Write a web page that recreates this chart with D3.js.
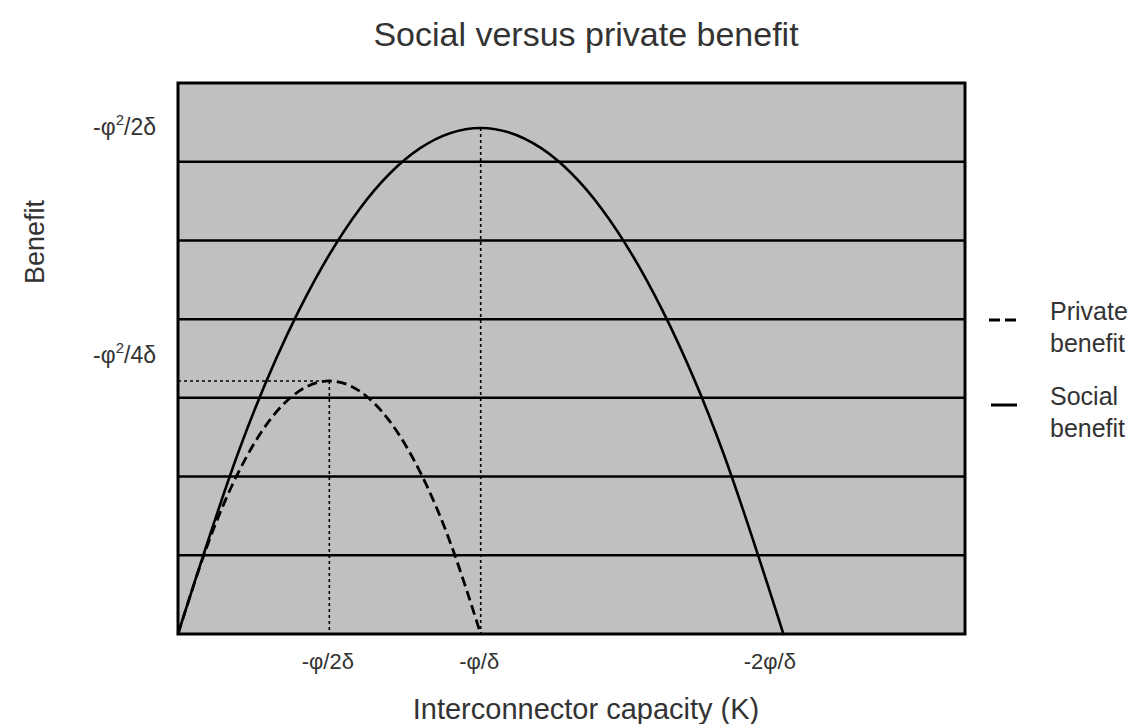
<!DOCTYPE html>
<html>
<head>
<meta charset="utf-8">
<script src="https://cdn.jsdelivr.net/npm/d3@7"></script>
<style>
  html, body { margin: 0; padding: 0; background: #fff; }
  svg { display: block; font-family: "Liberation Sans", Arial, sans-serif; }
</style>
</head>
<body>
<svg id="chart" width="1136" height="724"></svg>
<script>
// ---- Data (K in units of φ/δ, benefit in units of φ²/δ) ----
const socialK       = [0, 0.2, 0.4, 0.6, 0.8, 1.0, 1.2, 1.4, 1.6, 1.8, 2.0];
const socialBenefit = [0, 0.18, 0.32, 0.42, 0.48, 0.50, 0.48, 0.42, 0.32, 0.18, 0];
const privateK       = [0, 0.1, 0.2, 0.3, 0.4, 0.5, 0.6, 0.7, 0.8, 0.9, 1.0];
const privateBenefit = [0, 0.09, 0.16, 0.21, 0.24, 0.25, 0.24, 0.21, 0.16, 0.09, 0];
const xTickValues = [0.5, 1, 2];
const xTickLabels = ["-φ/2δ", "-φ/δ", "-2φ/δ"];
const yTickValues = [0.5, 0.25];
const yTickLabels = [["-φ", "2", "/2δ"], ["-φ", "2", "/4δ"]];
const gridCount = 7;
const xMax = 2.6, yMax = 0.5444;
const legendLabels = [["Private", "benefit"], ["Social", "benefit"]];

const svg = d3.select("#chart");
const L = 178, R = 965, T = 83, B = 634;
const x = d3.scaleLinear().domain([0, xMax]).range([L, R]);
const y = d3.scaleLinear().domain([0, yMax]).range([B, T]);
const txt = "#333";

// background
svg.append("rect").attr("x", L).attr("y", T).attr("width", R - L).attr("height", B - T)
  .attr("fill", "#c0c0c0");

// horizontal gridlines
const gridVals = d3.range(1, gridCount).map(i => yMax * i / gridCount);
svg.append("g").selectAll("line").data(gridVals).join("line")
  .attr("x1", L).attr("x2", R)
  .attr("y1", d => y(d)).attr("y2", d => y(d))
  .attr("stroke", "#000").attr("stroke-width", 2.5);

// dotted reference lines
const ref = svg.append("g").attr("stroke", "#000").attr("stroke-width", 1.6)
  .attr("stroke-dasharray", "3,3").attr("fill", "none");
ref.append("line").attr("x1", x(0)).attr("x2", x(0.5)).attr("y1", y(0.25)).attr("y2", y(0.25));
ref.append("line").attr("x1", x(0.5)).attr("x2", x(0.5)).attr("y1", y(0.25)).attr("y2", y(0));
ref.append("line").attr("x1", x(1)).attr("x2", x(1)).attr("y1", y(0.5)).attr("y2", y(0));

// curves
const line = d3.line().x(d => x(d[0])).y(d => y(d[1])).curve(d3.curveNatural);
svg.append("path").datum(socialK.map((k, i) => [k, socialBenefit[i]]))
  .attr("d", line).attr("fill", "none").attr("stroke", "#000").attr("stroke-width", 2.6);
svg.append("path").datum(privateK.map((k, i) => [k, privateBenefit[i]]))
  .attr("d", line).attr("fill", "none").attr("stroke", "#000").attr("stroke-width", 2.8)
  .attr("stroke-dasharray", "10,5");

// border
svg.append("rect").attr("x", L).attr("y", T).attr("width", R - L).attr("height", B - T)
  .attr("fill", "none").attr("stroke", "#000").attr("stroke-width", 3);

// x axis (labels only)
const xAxis = d3.axisBottom(x).tickValues(xTickValues)
  .tickFormat((d, i) => xTickLabels[i]).tickSize(0).tickPadding(19);
const gx = svg.append("g").attr("transform", `translate(0,${B})`).call(xAxis);
gx.select(".domain").remove();
gx.selectAll("text").attr("dx", (d, i) => i === 2 ? -14 : -2)
  .style("font-size", "22px").style("fill", txt).style("font-family", "Liberation Sans, Arial, sans-serif");

// y axis (labels only, with superscripts)
const yAxis = d3.axisLeft(y).tickValues(yTickValues).tickFormat("").tickSize(0).tickPadding(22);
const gy = svg.append("g").attr("transform", `translate(${L},0)`).call(yAxis);
gy.select(".domain").remove();
gy.selectAll(".tick text").each(function(d, i) {
  const t = d3.select(this).text("")
    .attr("dy", i === 0 ? "0.3em" : "-0.8em")
    .style("font-size", "23px").style("fill", txt).style("font-family", "Liberation Sans, Arial, sans-serif");
  const parts = yTickLabels[i];
  t.append("tspan").text(parts[0]);
  t.append("tspan").attr("dy", -10).style("font-size", "15px").text(parts[1]);
  t.append("tspan").attr("dy", 10).text(parts[2]);
});

// titles
svg.append("text").attr("x", 586).attr("y", 46).attr("text-anchor", "middle")
  .attr("font-size", 34).attr("fill", txt).text("Social versus private benefit");
svg.append("text").attr("x", 586).attr("y", 719).attr("text-anchor", "middle")
  .attr("font-size", 29).attr("fill", txt).text("Interconnector capacity (K)");
svg.append("text").attr("transform", "translate(44,242) rotate(-90)").attr("text-anchor", "middle")
  .attr("font-size", 27).attr("fill", txt).text("Benefit");

// legend
const lg = svg.append("g");
const legY = [320, 405];
lg.append("line").attr("x1", 989).attr("x2", 1017).attr("y1", legY[0]).attr("y2", legY[0])
  .attr("stroke", "#000").attr("stroke-width", 3).attr("stroke-dasharray", "11,5");
lg.append("line").attr("x1", 991).attr("x2", 1017).attr("y1", legY[1]).attr("y2", legY[1])
  .attr("stroke", "#000").attr("stroke-width", 3);
legendLabels.forEach((lab, i) => {
  const t = lg.append("text").attr("x", 1050).attr("y", legY[i]).attr("font-size", 25).attr("fill", txt);
  t.append("tspan").attr("x", 1050).text(lab[0]);
  t.append("tspan").attr("x", 1050).attr("dy", 32).text(lab[1]);
});
</script>
</body>
</html>
